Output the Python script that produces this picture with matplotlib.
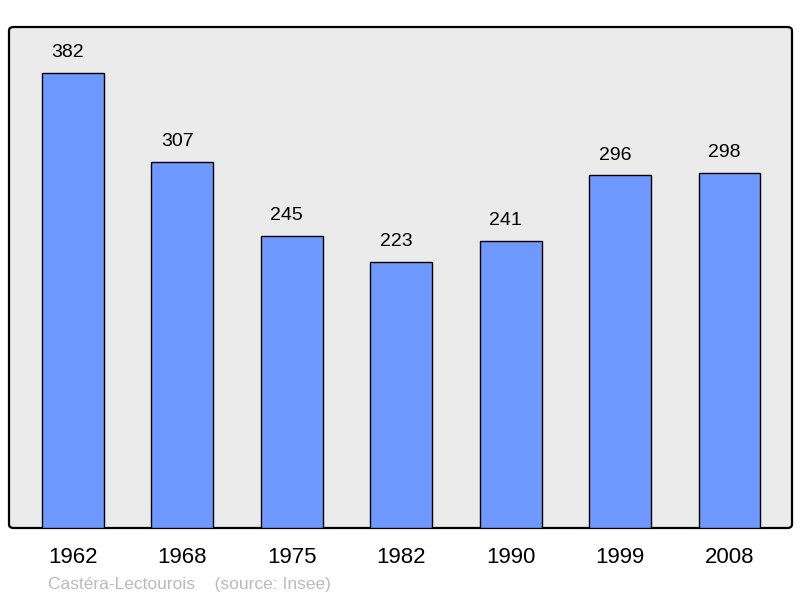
import numpy as np
import matplotlib.pyplot as plt
from matplotlib.patches import FancyBboxPatch

years = ["1962", "1968", "1975", "1982", "1990", "1999", "2008"]
population = [382, 307, 245, 223, 241, 296, 298]
caption = "Castéra-Lectourois    (source: Insee)"

plt.rcParams['font.family'] = ['Liberation Sans', 'DejaVu Sans']

fig = plt.figure(figsize=(8, 5.98), dpi=100)
# axes box in pixels: x 9..792, y 27..528
W, H = 800, 598
ax = fig.add_axes([9 / W, (H - 528) / H, (792 - 9) / W, (528 - 27) / H])
ax.set_facecolor("none")

# rounded frame behind the bars
frame = FancyBboxPatch((9 / W, (H - 528) / H), (792 - 9) / W, (528 - 27) / H,
                       boxstyle="round,pad=0,rounding_size=0.006",
                       transform=fig.transFigure, facecolor="#ebebeb",
                       edgecolor="black", linewidth=1.6, zorder=0,
                       clip_on=False)
ax.add_patch(frame)
for s in ax.spines.values():
    s.set_visible(False)

x = np.arange(len(years))
ax.bar(x, population, width=0.566, color="#7099ff", edgecolor="black",
       linewidth=1.0, zorder=2)
for xi, v in zip(x, population):
    ax.text(xi - 0.045, v + 10, str(v), ha="center", va="bottom", fontsize=14)

ax.set_xlim(-0.584, 6.571)
ax.set_ylim(0, 420.6)
ax.set_yticks([])
ax.set_xticks(x)
ax.set_xticklabels(years, fontsize=16)
ax.tick_params(axis="x", length=0, pad=14)

fig.text(48 / W, 1 - 584 / H, caption, fontsize=12.5, color="#bbbbbb",
         ha="left", va="center")

fig.savefig("out.png", dpi=100)
